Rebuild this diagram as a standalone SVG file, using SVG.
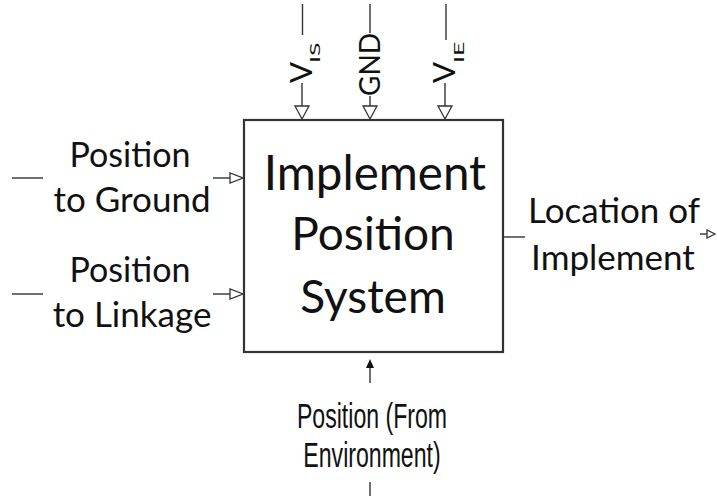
<svg xmlns="http://www.w3.org/2000/svg" width="717" height="496" viewBox="0 0 717 496">
<style>
.ln{stroke:#333;stroke-width:1.4;fill:none}
.box{stroke:#333;stroke-width:2.2;fill:#fff}
.ha{stroke:#333;stroke-width:1.3;fill:#fff}
.sa{fill:#111;stroke:none}
.t{font-family:Lato,"Open Sans","Liberation Sans",sans-serif;fill:#111}
.n{font-family:"Liberation Sans",Arial,sans-serif;fill:#111}
</style>
<rect width="717" height="496" fill="#fff"/>
<g id="connectors">
  <line class="ln" x1="302.5" y1="4" x2="302.5" y2="35"/>
  <line class="ln" x1="302" y1="83" x2="302" y2="106"/>
  <polygon class="ha" points="295,106 309,106 302,119"/>
  <line class="ln" x1="370" y1="4" x2="370" y2="33"/>
  <line class="ln" x1="370" y1="96" x2="370" y2="106"/>
  <polygon class="ha" points="363,106 377,106 370,119"/>
  <line class="ln" x1="446" y1="4" x2="446" y2="40"/>
  <line class="ln" x1="445" y1="83" x2="445" y2="106"/>
  <polygon class="ha" points="438,106 452,106 445,119"/>
  <line class="ln" x1="12" y1="178" x2="43" y2="178"/>
  <line class="ln" x1="213" y1="178" x2="230" y2="178"/>
  <polygon class="ha" points="230,173 230,183 243,178"/>
  <line class="ln" x1="12" y1="294" x2="43" y2="294"/>
  <line class="ln" x1="213" y1="294" x2="230" y2="294"/>
  <polygon class="ha" points="230,289 230,299 243,294"/>
  <line class="ln" x1="503" y1="237" x2="525" y2="237"/>
  <line class="ln" x1="700" y1="234" x2="707" y2="234"/>
  <polygon class="ha" points="707,230 707,238 715,234"/>
  <line class="ln" x1="370" y1="366" x2="370" y2="383"/>
  <polygon class="sa" points="370,359 366,368 374,368"/>
  <line class="ln" x1="370" y1="482" x2="370" y2="496"/>
</g>
<g id="node-system">
  <rect class="box" x="244" y="120" width="259" height="232"/>
  <text class="t" font-size="47.5" text-anchor="middle" x="375" y="190">Implement</text>
  <text class="t" font-size="46" text-anchor="middle" x="373" y="250">Position</text>
  <text class="t" font-size="46" text-anchor="middle" x="373" y="313">System</text>
</g>
<g id="input-vis">
  <text class="t" font-size="31" transform="translate(312,83) rotate(-90)">V</text>
  <text class="t" font-size="13" transform="translate(320,63) rotate(-90) scale(1.9,1)">IS</text>
</g>
<g id="input-gnd">
  <text class="t" font-size="28" transform="translate(380,96) rotate(-90)">GND</text>
</g>
<g id="input-vie">
  <text class="t" font-size="31" transform="translate(455,83) rotate(-90)">V</text>
  <text class="t" font-size="13" transform="translate(464,63) rotate(-90) scale(1.9,1)">IE</text>
</g>
<g id="input-ground">
  <text class="t" font-size="34" text-anchor="middle" x="130" y="167">Position</text>
  <text class="t" font-size="35" text-anchor="middle" x="132" y="212">to Ground</text>
</g>
<g id="input-linkage">
  <text class="t" font-size="34" text-anchor="middle" x="130" y="282">Position</text>
  <text class="t" font-size="35" text-anchor="middle" x="132" y="327">to Linkage</text>
</g>
<g id="output-location">
  <text class="t" font-size="35" text-anchor="middle" x="614" y="223">Location of</text>
  <text class="t" font-size="35" text-anchor="middle" x="613" y="270">Implement</text>
</g>
<g id="input-environment">
  <text class="n" font-size="35" text-anchor="middle" transform="translate(372,428) scale(0.66,1)">Position (From</text>
  <text class="n" font-size="35" text-anchor="middle" transform="translate(372,467) scale(0.66,1)">Environment)</text>
</g>
</svg>
